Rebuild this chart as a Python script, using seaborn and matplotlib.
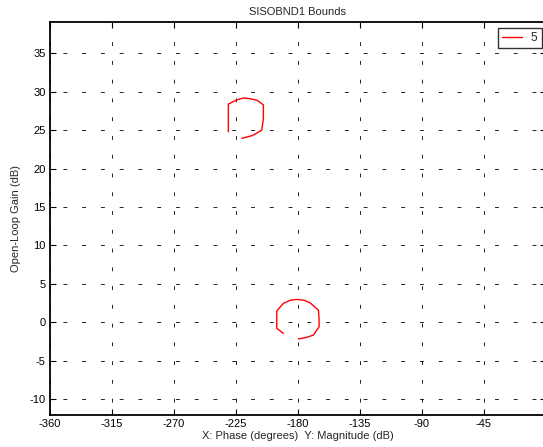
import matplotlib
matplotlib.use("Agg")
import matplotlib.pyplot as plt
import seaborn as sns
import pandas as pd

# Bound curve near -220 deg / 26 dB
phase_a = [-220.7, -213.0, -206.2, -205.0, -205.0, -209.5, -214.6, -219.5, -225.0, -230.4, -230.4, -230.4]
gain_a = [23.95, 24.3, 25.0, 26.5, 28.3, 28.9, 29.1, 29.2, 28.9, 28.4, 26.5, 24.8]
# Bound curve near -180 deg / 0 dB
phase_b = [-190.5, -195.3, -195.3, -190.5, -185.5, -180.8, -175.5, -171.1, -165.1, -164.6, -164.6, -168.7, -174.0, -179.6]
gain_b = [-1.47, -0.82, 1.47, 2.44, 2.85, 2.96, 2.85, 2.52, 1.56, 0.4, -0.61, -1.69, -2.0, -2.2]

series_label = "5"
x_ticks = [-360, -315, -270, -225, -180, -135, -90, -45]
y_ticks = [-10, -5, 0, 5, 10, 15, 20, 25, 30, 35]

df = pd.concat([
    pd.DataFrame({"phase": phase_a, "gain": gain_a, "seg": 0}),
    pd.DataFrame({"phase": phase_b, "gain": gain_b, "seg": 1}),
], ignore_index=True)
df["series"] = series_label

sns.set_style("white")
plt.rcParams["font.family"] = ["Liberation Sans", "DejaVu Sans"]

fig = plt.figure(figsize=(5.43, 4.47), dpi=100)
ax = fig.add_axes([49.7 / 543, 1 - 415 / 447, (546 - 49.7) / 543, (415 - 22) / 447])

sns.lineplot(data=df, x="phase", y="gain", hue="series", units="seg", estimator=None,
             sort=False, palette={series_label: "#ff0000"}, linewidth=1.0, ax=ax)

ax.set_xlim(-360, 0)
ax.set_ylim(-12.1, 39.1)
ax.set_xticks(x_ticks)
ax.set_yticks(y_ticks)
ax.set_xticklabels([str(t) for t in x_ticks])
ax.set_yticklabels([str(t) for t in y_ticks])
ax.grid(True, color="#222222", linestyle=(6, (4, 15.3)), linewidth=0.7)
ax.tick_params(direction="in", length=4, width=0.8, labelsize=8, colors="black",
               top=True, right=True, bottom=True, left=True, pad=3)
for s in ax.spines.values():
    s.set_visible(True)
    s.set_color("black")
    s.set_linewidth(1.3)

ax.set_title("SISOBND1 Bounds", fontsize=8, pad=5)
ax.set_xlabel("X: Phase (degrees)  Y: Magnitude (dB)", fontsize=8, labelpad=1)
ax.set_ylabel("Open-Loop Gain (dB)", fontsize=8, labelpad=6)

leg = ax.legend(loc="upper right", fontsize=8.5, frameon=True, fancybox=False,
                handlelength=1.75, handletextpad=0.7, borderpad=0.35, borderaxespad=0)
leg.set_bbox_to_anchor((541.5 / 543, 1 - 27.7 / 447), transform=fig.transFigure)
leg.get_frame().set_edgecolor("black")
leg.get_frame().set_linewidth(1.0)
leg.set_title(None)

fig.savefig("out.png", dpi=100)
